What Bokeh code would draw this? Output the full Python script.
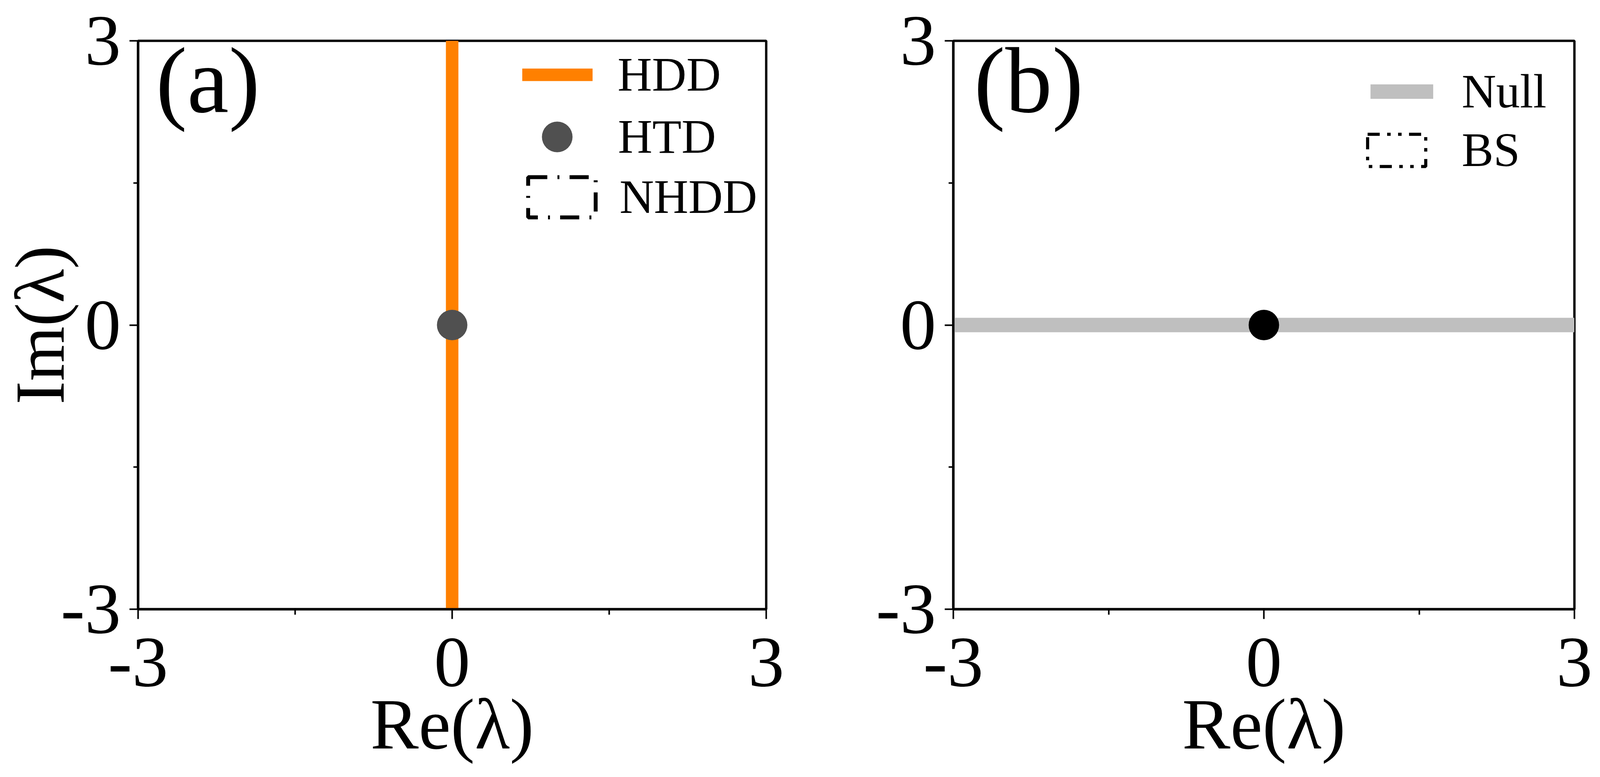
import numpy as np
from bokeh.plotting import figure
from bokeh.models import Range1d, FixedTicker, Legend, LegendItem, Label
from bokeh.layouts import row
from bokeh.embed import file_html
from bokeh.resources import INLINE

## Data

# ticks shared by both panels
tick_values = [-3, 0, 3]
tick_labels = ["-3", "0", "3"]
minor_tick_values = [-1.5, 1.5]

# (a) HDD runs along the imaginary axis, HTD sits at the origin
hdd_re = [0, 0]
hdd_im = [-3, 3]
htd_re = [0]
htd_im = [0]
# (a) NHDD: no region in this panel, legend entry only
nhdd_left = np.array([np.nan])
nhdd_right = np.array([np.nan])
nhdd_top = np.array([np.nan])
nhdd_bottom = np.array([np.nan])

# (b) Null runs along the real axis, one point at the origin
null_re = [-3, 3]
null_im = [0, 0]
origin_re = [0]
origin_im = [0]
# (b) BS: no region in this panel, legend entry only
bs_left = np.array([np.nan])
bs_right = np.array([np.nan])
bs_top = np.array([np.nan])
bs_bottom = np.array([np.nan])

FONT = "Liberation Serif"

# the browser viewport is 4096 wide, so 4080 px of page width are used


def make_panel(width, border_left, border_right, y_label=None):
    p = figure(width=width, height=1973,
               x_range=Range1d(-3, 3), y_range=Range1d(-3, 3),
               output_backend="svg", toolbar_location=None,
               min_border_left=border_left, min_border_right=border_right,
               min_border_top=104, min_border_bottom=414)
    p.xgrid.visible = False
    p.ygrid.visible = False
    p.outline_line_color = "black"
    p.outline_line_width = 6
    p.outline_line_alpha = 1

    for axis in (p.xaxis[0], p.yaxis[0]):
        axis.ticker = FixedTicker(ticks=tick_values, minor_ticks=minor_tick_values)
        axis.major_label_overrides = dict(zip(tick_values, tick_labels))
        axis.major_label_text_font = FONT
        axis.major_label_text_font_size = "185px"
        axis.major_label_text_color = "black"
        axis.axis_line_width = 6
        axis.axis_line_color = "black"
        axis.major_tick_line_width = 4
        axis.minor_tick_line_width = 4
        axis.major_tick_in = 0
        axis.minor_tick_in = 0
        axis.axis_label_text_font = FONT
        axis.axis_label_text_font_style = "normal"
        axis.axis_label_text_color = "black"

    p.xaxis.major_tick_out = 25
    p.xaxis.minor_tick_out = 14
    p.yaxis.major_tick_out = 22
    p.yaxis.minor_tick_out = 12

    p.xaxis.axis_label = "Re(λ)"
    p.xaxis.axis_label_text_font_size = "185px"
    p.xaxis.major_label_standoff = 50
    p.xaxis.axis_label_standoff = -8
    p.yaxis.major_label_standoff = 22
    if y_label:
        p.yaxis.axis_label = y_label
        p.yaxis.axis_label_text_font_size = "180px"
        p.yaxis.axis_label_standoff = -50
    return p


def add_key(p, renderer, text, glyph_w, glyph_h, loc, standoff):
    key = Legend(items=[LegendItem(label=text, renderers=[renderer])],
                 location=loc, glyph_width=glyph_w, glyph_height=glyph_h,
                 label_standoff=standoff, label_text_font=FONT,
                 label_text_font_size="122px", label_text_color="black",
                 padding=0, margin=0, spacing=0,
                 border_line_color=None, background_fill_alpha=0)
    p.add_layout(key)


def add_tag(p, text, x):
    p.add_layout(Label(x=x, y=2.58, text=text, text_font=FONT,
                       text_font_size="240px", text_color="black",
                       text_baseline="middle"))


## Panel (a)
pa = make_panel(2100, 347, 139, "Im(λ)")
hdd = pa.line(hdd_re, hdd_im, line_color="#ff8000", line_width=32, line_cap="round")
htd = pa.scatter(htd_re, htd_im, marker="circle", size=78,
                 fill_color="#505050", line_color=None)
nhdd = pa.quad(left=nhdd_left, right=nhdd_right, top=nhdd_top, bottom=nhdd_bottom,
               fill_color=None, line_color="black", line_width=10,
               line_dash="49 26 5 26")
add_tag(pa, "(a)", -2.83)
add_key(pa, hdd, "HDD", 180, 150, (984, 1293), 64)
add_key(pa, htd, "HTD", 196, 196, (975, 1111), 58)
add_key(pa, nhdd, "NHDD", 216, 129, (977, 985), 40)

## Panel (b)
pb = make_panel(1980, 340, 50)
null = pb.line(null_re, null_im, line_color="#bfbfbf", line_width=37)
pb.scatter(origin_re, origin_im, marker="circle", size=78,
           fill_color="black", line_color=None)
bs = pb.quad(left=bs_left, right=bs_right, top=bs_top, bottom=bs_bottom,
             fill_color=None, line_color="black", line_width=8,
             line_dash="31 19 9 19 9 19")
add_tag(pb, "(b)", -2.80)
add_key(pb, null, "Null", 161, 150, (1068, 1250), 73)
add_key(pb, bs, "BS", 186, 103, (1042, 1105), 74)

layout = row(pa, pb)
open("out.html", "w").write(file_html(layout, INLINE))
